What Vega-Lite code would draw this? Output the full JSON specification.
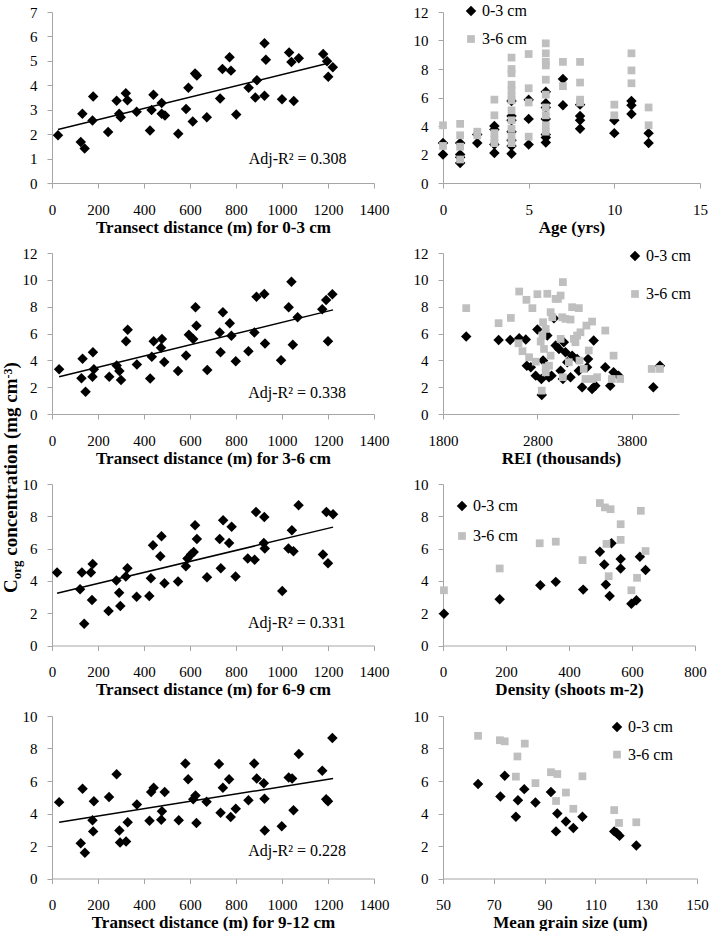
{
"$schema": "https://vega.github.io/schema/vega-lite/v6.json",
"padding": {"left": 1, "top": 3, "right": 0, "bottom": 0},
"bounds": "flush",
"align": "each",
"columns": 2,
"spacing": {"row": 70, "column": 69},
"resolve": {"scale": {"color": "independent", "shape": "independent", "size": "independent"}, "legend": {"color": "independent", "shape": "independent", "size": "independent"}},
"datasets": {
"ytitle": [
{"d": -152.2, "c": -13.34, "seg": "C"},
{"d": -152.2, "c": -13.34, "seg": "org"},
{"d": -152.2, "c": -13.34, "seg": "concentration (mg cm"},
{"d": -152.2, "c": -13.34, "seg": "-3"},
{"d": -152.2, "c": -13.34, "seg": ")"}
],
"p1": [
{"d":26,"c":1.95},{"d":125,"c":1.68},{"d":142,"c":1.41},{"d":132,"c":2.83},{"d":176,"c":2.56},{"d":179,"c":3.54},{"d":244,"c":2.09},{"d":281,"c":3.37},{"d":292,"c":2.83},{"d":299,"c":2.69},{"d":321,"c":3.67},{"d":328,"c":3.39},{"d":368,"c":2.92},{"d":426,"c":2.15},{"d":433,"c":2.99},{"d":441,"c":3.61},{"d":477,"c":3.27},{"d":477,"c":2.83},{"d":491,"c":2.76},{"d":549,"c":2.02},{"d":583,"c":3.03},{"d":593,"c":3.9},{"d":612,"c":2.52},{"d":622,"c":4.48},{"d":630,"c":4.4},{"d":673,"c":2.69},{"d":731,"c":3.46},{"d":741,"c":4.67},{"d":772,"c":5.15},{"d":778,"c":4.6},{"d":801,"c":2.8},{"d":855,"c":3.9},{"d":884,"c":3.5},{"d":891,"c":4.21},{"d":924,"c":3.57},{"d":924,"c":5.72},{"d":930,"c":5.05},{"d":1000,"c":3.43},{"d":1031,"c":5.34},{"d":1041,"c":4.95},{"d":1051,"c":3.36},{"d":1073,"c":5.11},{"d":1179,"c":5.28},{"d":1196,"c":4.98},{"d":1201,"c":4.35},{"d":1221,"c":4.74}
],
"l1": [{"d":26,"c":2.19},{"d":1196,"c":4.89}],
"r1": [{"d":1068,"c":0.97,"t":"Adj-R² = 0.308"}],
"p3": [
{"d":31,"c":3.33},{"d":128,"c":2.66},{"d":133,"c":4.11},{"d":146,"c":1.65},{"d":176,"c":2.78},{"d":178,"c":4.61},{"d":182,"c":3.33},{"d":249,"c":2.78},{"d":281,"c":3.62},{"d":293,"c":3.2},{"d":300,"c":2.54},{"d":329,"c":6.28},{"d":322,"c":5.42},{"d":369,"c":3.69},{"d":427,"c":2.64},{"d":434,"c":4.26},{"d":442,"c":5.42},{"d":478,"c":5.59},{"d":474,"c":4.93},{"d":488,"c":3.87},{"d":548,"c":3.2},{"d":583,"c":4.36},{"d":595,"c":5.91},{"d":614,"c":5.59},{"d":624,"c":7.96},{"d":628,"c":6.58},{"d":675,"c":3.28},{"d":729,"c":6.08},{"d":733,"c":4.61},{"d":743,"c":7.59},{"d":773,"c":6.77},{"d":780,"c":5.84},{"d":799,"c":3.94},{"d":854,"c":4.68},{"d":880,"c":6.08},{"d":889,"c":8.74},{"d":923,"c":8.94},{"d":926,"c":5.25},{"d":996,"c":4.01},{"d":1029,"c":7.96},{"d":1041,"c":9.85},{"d":1047,"c":5.17},{"d":1068,"c":7.22},{"d":1175,"c":7.81},{"d":1192,"c":8.5},{"d":1200,"c":5.42},{"d":1219,"c":8.92}
],
"l3": [{"d":31,"c":2.78},{"d":1222,"c":7.76}],
"r3": [{"d":1066,"c":1.53,"t":"Adj-R² = 0.338"}],
"p5": [
{"d":22,"c":4.52},{"d":122,"c":3.48},{"d":130,"c":4.52},{"d":140,"c":1.35},{"d":169,"c":4.52},{"d":177,"c":5.04},{"d":174,"c":2.81},{"d":246,"c":2.13},{"d":280,"c":4.02},{"d":292,"c":3.27},{"d":297,"c":2.44},{"d":321,"c":4.27},{"d":328,"c":4.79},{"d":368,"c":3.02},{"d":423,"c":3.06},{"d":430,"c":4.17},{"d":439,"c":6.21},{"d":471,"c":5.52},{"d":476,"c":6.77},{"d":489,"c":3.85},{"d":548,"c":3.96},{"d":582,"c":4.9},{"d":589,"c":5.38},{"d":604,"c":5.63},{"d":616,"c":5.79},{"d":622,"c":7.44},{"d":630,"c":6.6},{"d":674,"c":4.23},{"d":729,"c":6.6},{"d":734,"c":4.79},{"d":744,"c":7.75},{"d":770,"c":6.35},{"d":781,"c":7.35},{"d":798,"c":4.27},{"d":851,"c":5.38},{"d":881,"c":5.31},{"d":887,"c":8.27},{"d":923,"c":7.96},{"d":921,"c":6.35},{"d":925,"c":6.0},{"d":1001,"c":3.38},{"d":1028,"c":6.0},{"d":1043,"c":7.13},{"d":1050,"c":5.83},{"d":1072,"c":8.69},{"d":1178,"c":5.63},{"d":1193,"c":8.27},{"d":1200,"c":5.1},{"d":1222,"c":8.13}
],
"l5": [{"d":22,"c":3.23},{"d":1222,"c":7.33}],
"r5": [{"d":1065,"c":1.4,"t":"Adj-R² = 0.331"}],
"p7": [
{"d":31,"c":4.7},{"d":125,"c":2.17},{"d":133,"c":5.53},{"d":143,"c":1.59},{"d":176,"c":3.58},{"d":179,"c":2.9},{"d":182,"c":4.76},{"d":248,"c":5.01},{"d":281,"c":6.42},{"d":293,"c":2.96},{"d":296,"c":2.22},{"d":322,"c":2.28},{"d":329,"c":3.46},{"d":369,"c":4.55},{"d":424,"c":3.56},{"d":431,"c":5.32},{"d":442,"c":5.59},{"d":475,"c":3.62},{"d":478,"c":4.14},{"d":490,"c":5.32},{"d":551,"c":3.58},{"d":580,"c":7.08},{"d":592,"c":6.11},{"d":614,"c":4.87},{"d":624,"c":5.11},{"d":628,"c":3.42},{"d":672,"c":4.72},{"d":726,"c":7.04},{"d":733,"c":4.04},{"d":743,"c":5.59},{"d":770,"c":6.11},{"d":777,"c":3.79},{"d":799,"c":4.29},{"d":854,"c":4.82},{"d":879,"c":7.08},{"d":890,"c":6.15},{"d":921,"c":5.86},{"d":924,"c":4.91},{"d":925,"c":2.96},{"d":999,"c":3.21},{"d":1029,"c":6.21},{"d":1044,"c":6.15},{"d":1050,"c":4.2},{"d":1073,"c":7.66},{"d":1175,"c":6.63},{"d":1192,"c":4.87},{"d":1200,"c":4.76},{"d":1219,"c":8.65}
],
"l7": [{"d":31,"c":3.46},{"d":1222,"c":6.15}],
"r7": [{"d":1066,"c":1.72,"t":"Adj-R² = 0.228"}],
"age": [
{"a":0,"c":2.8,"s":"0-3 cm"},{"a":0,"c":2.0,"s":"0-3 cm"},{"a":1,"c":2.8,"s":"0-3 cm"},{"a":1,"c":2.0,"s":"0-3 cm"},{"a":1,"c":1.4,"s":"0-3 cm"},{"a":1,"c":1.8,"s":"0-3 cm"},{"a":2,"c":2.8,"s":"0-3 cm"},{"a":2,"c":3.4,"s":"0-3 cm"},{"a":3,"c":4.0,"s":"0-3 cm"},{"a":3,"c":3.75,"s":"0-3 cm"},{"a":3,"c":2.7,"s":"0-3 cm"},{"a":3,"c":2.1,"s":"0-3 cm"},{"a":4,"c":5.75,"s":"0-3 cm"},{"a":4,"c":4.7,"s":"0-3 cm"},{"a":4,"c":4.4,"s":"0-3 cm"},{"a":4,"c":3.6,"s":"0-3 cm"},{"a":4,"c":3.0,"s":"0-3 cm"},{"a":4,"c":2.6,"s":"0-3 cm"},{"a":4,"c":2.05,"s":"0-3 cm"},{"a":5,"c":5.85,"s":"0-3 cm"},{"a":5,"c":4.5,"s":"0-3 cm"},{"a":5,"c":2.7,"s":"0-3 cm"},{"a":6,"c":6.4,"s":"0-3 cm"},{"a":6,"c":5.6,"s":"0-3 cm"},{"a":6,"c":5.3,"s":"0-3 cm"},{"a":6,"c":4.5,"s":"0-3 cm"},{"a":6,"c":3.4,"s":"0-3 cm"},{"a":6,"c":3.2,"s":"0-3 cm"},{"a":6,"c":2.85,"s":"0-3 cm"},{"a":7,"c":7.3,"s":"0-3 cm"},{"a":7,"c":5.45,"s":"0-3 cm"},{"a":8,"c":5.5,"s":"0-3 cm"},{"a":8,"c":4.7,"s":"0-3 cm"},{"a":8,"c":4.4,"s":"0-3 cm"},{"a":8,"c":3.8,"s":"0-3 cm"},{"a":10,"c":4.4,"s":"0-3 cm"},{"a":10,"c":3.5,"s":"0-3 cm"},{"a":11,"c":5.75,"s":"0-3 cm"},{"a":11,"c":5.45,"s":"0-3 cm"},{"a":11,"c":4.85,"s":"0-3 cm"},{"a":12,"c":3.5,"s":"0-3 cm"},{"a":12,"c":2.8,"s":"0-3 cm"},
{"a":0,"c":4.05,"s":"3-6 cm"},{"a":0,"c":2.6,"s":"3-6 cm"},{"a":1,"c":4.15,"s":"3-6 cm"},{"a":1,"c":3.35,"s":"3-6 cm"},{"a":1,"c":2.55,"s":"3-6 cm"},{"a":1,"c":1.65,"s":"3-6 cm"},{"a":2,"c":3.6,"s":"3-6 cm"},{"a":2,"c":3.35,"s":"3-6 cm"},{"a":3,"c":5.85,"s":"3-6 cm"},{"a":3,"c":4.75,"s":"3-6 cm"},{"a":3,"c":3.5,"s":"3-6 cm"},{"a":3,"c":3.05,"s":"3-6 cm"},{"a":3,"c":2.8,"s":"3-6 cm"},{"a":4,"c":8.8,"s":"3-6 cm"},{"a":4,"c":8.0,"s":"3-6 cm"},{"a":4,"c":7.7,"s":"3-6 cm"},{"a":4,"c":6.9,"s":"3-6 cm"},{"a":4,"c":6.5,"s":"3-6 cm"},{"a":4,"c":6.1,"s":"3-6 cm"},{"a":4,"c":5.8,"s":"3-6 cm"},{"a":4,"c":5.1,"s":"3-6 cm"},{"a":4,"c":4.4,"s":"3-6 cm"},{"a":4,"c":3.8,"s":"3-6 cm"},{"a":4,"c":3.25,"s":"3-6 cm"},{"a":4,"c":2.8,"s":"3-6 cm"},{"a":5,"c":9.05,"s":"3-6 cm"},{"a":5,"c":6.65,"s":"3-6 cm"},{"a":5,"c":5.65,"s":"3-6 cm"},{"a":5,"c":3.25,"s":"3-6 cm"},{"a":6,"c":9.8,"s":"3-6 cm"},{"a":6,"c":9.1,"s":"3-6 cm"},{"a":6,"c":8.5,"s":"3-6 cm"},{"a":6,"c":8.25,"s":"3-6 cm"},{"a":6,"c":7.25,"s":"3-6 cm"},{"a":6,"c":6.2,"s":"3-6 cm"},{"a":6,"c":5.3,"s":"3-6 cm"},{"a":6,"c":4.75,"s":"3-6 cm"},{"a":6,"c":4.05,"s":"3-6 cm"},{"a":6,"c":3.6,"s":"3-6 cm"},{"a":7,"c":8.5,"s":"3-6 cm"},{"a":7,"c":6.8,"s":"3-6 cm"},{"a":8,"c":8.5,"s":"3-6 cm"},{"a":8,"c":7.05,"s":"3-6 cm"},{"a":8,"c":5.85,"s":"3-6 cm"},{"a":8,"c":5.65,"s":"3-6 cm"},{"a":10,"c":5.5,"s":"3-6 cm"},{"a":10,"c":4.75,"s":"3-6 cm"},{"a":11,"c":9.1,"s":"3-6 cm"},{"a":11,"c":7.9,"s":"3-6 cm"},{"a":11,"c":7.0,"s":"3-6 cm"},{"a":12,"c":5.3,"s":"3-6 cm"},{"a":12,"c":4.05,"s":"3-6 cm"}
],
"rei": [
{"r":2046,"c":5.77,"s":"0-3 cm"},{"r":2389,"c":5.52,"s":"0-3 cm"},{"r":2512,"c":5.52,"s":"0-3 cm"},{"r":2607,"c":5.65,"s":"0-3 cm"},{"r":2677,"c":5.55,"s":"0-3 cm"},{"r":2688,"c":3.6,"s":"0-3 cm"},{"r":2730,"c":3.48,"s":"0-3 cm"},{"r":2782,"c":2.86,"s":"0-3 cm"},{"r":2800,"c":6.29,"s":"0-3 cm"},{"r":2842,"c":2.61,"s":"0-3 cm"},{"r":2846,"c":1.42,"s":"0-3 cm"},{"r":2860,"c":3.98,"s":"0-3 cm"},{"r":2905,"c":5.85,"s":"0-3 cm"},{"r":2923,"c":2.74,"s":"0-3 cm"},{"r":2950,"c":2.86,"s":"0-3 cm"},{"r":2975,"c":7.14,"s":"0-3 cm"},{"r":2993,"c":5.1,"s":"0-3 cm"},{"r":3028,"c":4.85,"s":"0-3 cm"},{"r":3046,"c":3.23,"s":"0-3 cm"},{"r":3070,"c":2.61,"s":"0-3 cm"},{"r":3080,"c":5.35,"s":"0-3 cm"},{"r":3098,"c":4.6,"s":"0-3 cm"},{"r":3116,"c":3.86,"s":"0-3 cm"},{"r":3151,"c":2.74,"s":"0-3 cm"},{"r":3168,"c":4.35,"s":"0-3 cm"},{"r":3221,"c":4.1,"s":"0-3 cm"},{"r":3239,"c":3.23,"s":"0-3 cm"},{"r":3274,"c":1.99,"s":"0-3 cm"},{"r":3326,"c":3.48,"s":"0-3 cm"},{"r":3337,"c":4.1,"s":"0-3 cm"},{"r":3379,"c":1.87,"s":"0-3 cm"},{"r":3396,"c":5.47,"s":"0-3 cm"},{"r":3414,"c":2.11,"s":"0-3 cm"},{"r":3519,"c":3.48,"s":"0-3 cm"},{"r":3572,"c":2.11,"s":"0-3 cm"},{"r":3607,"c":3.11,"s":"0-3 cm"},{"r":3660,"c":2.86,"s":"0-3 cm"},{"r":4028,"c":1.99,"s":"0-3 cm"},{"r":4098,"c":3.6,"s":"0-3 cm"},
{"r":2046,"c":7.89,"s":"3-6 cm"},{"r":2389,"c":6.77,"s":"3-6 cm"},{"r":2519,"c":7.16,"s":"3-6 cm"},{"r":2607,"c":9.13,"s":"3-6 cm"},{"r":2684,"c":8.51,"s":"3-6 cm"},{"r":2747,"c":7.89,"s":"3-6 cm"},{"r":2800,"c":8.93,"s":"3-6 cm"},{"r":2600,"c":5.27,"s":"3-6 cm"},{"r":2642,"c":4.68,"s":"3-6 cm"},{"r":2712,"c":4.23,"s":"3-6 cm"},{"r":2782,"c":3.9,"s":"3-6 cm"},{"r":2835,"c":5.4,"s":"3-6 cm"},{"r":2853,"c":5.85,"s":"3-6 cm"},{"r":2860,"c":6.84,"s":"3-6 cm"},{"r":2888,"c":6.34,"s":"3-6 cm"},{"r":2905,"c":8.96,"s":"3-6 cm"},{"r":2940,"c":7.59,"s":"3-6 cm"},{"r":2958,"c":7.21,"s":"3-6 cm"},{"r":2870,"c":4.85,"s":"3-6 cm"},{"r":2888,"c":3.48,"s":"3-6 cm"},{"r":2888,"c":3.11,"s":"3-6 cm"},{"r":2846,"c":1.74,"s":"3-6 cm"},{"r":2923,"c":3.6,"s":"3-6 cm"},{"r":2940,"c":4.35,"s":"3-6 cm"},{"r":2993,"c":8.58,"s":"3-6 cm"},{"r":3018,"c":8.58,"s":"3-6 cm"},{"r":3046,"c":8.83,"s":"3-6 cm"},{"r":3070,"c":9.83,"s":"3-6 cm"},{"r":3063,"c":7.21,"s":"3-6 cm"},{"r":3046,"c":5.6,"s":"3-6 cm"},{"r":3070,"c":2.74,"s":"3-6 cm"},{"r":3098,"c":7.09,"s":"3-6 cm"},{"r":3133,"c":3.86,"s":"3-6 cm"},{"r":3151,"c":7.04,"s":"3-6 cm"},{"r":3168,"c":7.96,"s":"3-6 cm"},{"r":3186,"c":5.6,"s":"3-6 cm"},{"r":3203,"c":5.35,"s":"3-6 cm"},{"r":3221,"c":5.85,"s":"3-6 cm"},{"r":3239,"c":7.89,"s":"3-6 cm"},{"r":3246,"c":3.98,"s":"3-6 cm"},{"r":3256,"c":6.09,"s":"3-6 cm"},{"r":3291,"c":3.36,"s":"3-6 cm"},{"r":3309,"c":2.61,"s":"3-6 cm"},{"r":3319,"c":6.59,"s":"3-6 cm"},{"r":3344,"c":4.73,"s":"3-6 cm"},{"r":3379,"c":6.89,"s":"3-6 cm"},{"r":3432,"c":2.74,"s":"3-6 cm"},{"r":3379,"c":2.61,"s":"3-6 cm"},{"r":3519,"c":6.22,"s":"3-6 cm"},{"r":3607,"c":4.35,"s":"3-6 cm"},{"r":3589,"c":2.61,"s":"3-6 cm"},{"r":3677,"c":2.61,"s":"3-6 cm"},{"r":4011,"c":3.36,"s":"3-6 cm"},{"r":4098,"c":3.36,"s":"3-6 cm"}
],
"dens": [
{"n":3,"c":1.97,"s":"0-3 cm"},{"n":180,"c":2.86,"s":"0-3 cm"},{"n":309,"c":3.73,"s":"0-3 cm"},{"n":358,"c":3.94,"s":"0-3 cm"},{"n":445,"c":3.46,"s":"0-3 cm"},{"n":498,"c":5.81,"s":"0-3 cm"},{"n":512,"c":5.02,"s":"0-3 cm"},{"n":517,"c":3.78,"s":"0-3 cm"},{"n":529,"c":3.07,"s":"0-3 cm"},{"n":535,"c":6.33,"s":"0-3 cm"},{"n":564,"c":5.35,"s":"0-3 cm"},{"n":564,"c":4.77,"s":"0-3 cm"},{"n":598,"c":2.59,"s":"0-3 cm"},{"n":614,"c":2.8,"s":"0-3 cm"},{"n":625,"c":5.5,"s":"0-3 cm"},{"n":643,"c":4.67,"s":"0-3 cm"},
{"n":3,"c":3.42,"s":"3-6 cm"},{"n":180,"c":4.77,"s":"3-6 cm"},{"n":307,"c":6.33,"s":"3-6 cm"},{"n":358,"c":6.43,"s":"3-6 cm"},{"n":443,"c":5.29,"s":"3-6 cm"},{"n":498,"c":8.82,"s":"3-6 cm"},{"n":514,"c":8.55,"s":"3-6 cm"},{"n":532,"c":8.44,"s":"3-6 cm"},{"n":519,"c":6.29,"s":"3-6 cm"},{"n":564,"c":7.51,"s":"3-6 cm"},{"n":564,"c":6.54,"s":"3-6 cm"},{"n":526,"c":4.29,"s":"3-6 cm"},{"n":598,"c":3.42,"s":"3-6 cm"},{"n":616,"c":4.19,"s":"3-6 cm"},{"n":628,"c":8.34,"s":"3-6 cm"},{"n":643,"c":5.85,"s":"3-6 cm"}
],
"grain": [
{"g":63.8,"c":5.81,"s":"0-3 cm"},{"g":72.6,"c":5.04,"s":"0-3 cm"},{"g":74.3,"c":6.33,"s":"0-3 cm"},{"g":78.7,"c":3.8,"s":"0-3 cm"},{"g":79.5,"c":4.81,"s":"0-3 cm"},{"g":82.0,"c":5.5,"s":"0-3 cm"},{"g":86.4,"c":4.67,"s":"0-3 cm"},{"g":92.5,"c":5.33,"s":"0-3 cm"},{"g":94.5,"c":2.9,"s":"0-3 cm"},{"g":95.0,"c":4.0,"s":"0-3 cm"},{"g":98.4,"c":3.51,"s":"0-3 cm"},{"g":101.3,"c":3.11,"s":"0-3 cm"},{"g":104.9,"c":3.8,"s":"0-3 cm"},{"g":117.4,"c":2.9,"s":"0-3 cm"},{"g":118.4,"c":2.8,"s":"0-3 cm"},{"g":119.5,"c":2.63,"s":"0-3 cm"},{"g":126.1,"c":2.03,"s":"0-3 cm"},
{"g":63.8,"c":8.78,"s":"3-6 cm"},{"g":72.4,"c":8.51,"s":"3-6 cm"},{"g":74.3,"c":8.44,"s":"3-6 cm"},{"g":78.7,"c":6.27,"s":"3-6 cm"},{"g":79.3,"c":7.51,"s":"3-6 cm"},{"g":82.2,"c":8.3,"s":"3-6 cm"},{"g":86.4,"c":5.87,"s":"3-6 cm"},{"g":92.5,"c":6.54,"s":"3-6 cm"},{"g":94.5,"c":4.77,"s":"3-6 cm"},{"g":95.0,"c":6.43,"s":"3-6 cm"},{"g":98.4,"c":5.29,"s":"3-6 cm"},{"g":101.3,"c":4.29,"s":"3-6 cm"},{"g":104.9,"c":6.29,"s":"3-6 cm"},{"g":117.4,"c":4.21,"s":"3-6 cm"},{"g":119.3,"c":3.42,"s":"3-6 cm"},{"g":126.1,"c":3.46,"s":"3-6 cm"}
]
},
"concat": [
{
"width": 322, "height": 171,
"encoding": {
"x": {"field": "d", "type": "quantitative", "scale": {"domain": [0, 1400], "nice": false}, "axis": {"values": [0, 200, 400, 600, 800, 1000, 1200, 1400], "format": "d", "title": "Transect distance (m) for 0-3 cm"}},
"y": {"field": "c", "type": "quantitative", "scale": {"domain": [0, 7], "nice": false}, "axis": {"values": [0, 1, 2, 3, 4, 5, 6, 7], "title": null}}
},
"layer": [
{"data": {"name": "p1"}, "mark": {"type": "point", "shape": "diamond", "filled": true, "color": "black", "opacity": 1, "size": 110}},
{"data": {"name": "l1"}, "mark": {"type": "line", "color": "black", "strokeWidth": 1.5}},
{"data": {"name": "r1"}, "mark": {"type": "text", "font": "Liberation Serif", "fontSize": 16, "color": "black", "align": "center", "baseline": "middle"}, "encoding": {"text": {"field": "t"}}}
]
},
{
"width": 257, "height": 171,
"data": {"name": "age"},
"mark": {"type": "point", "filled": true, "opacity": 1},
"encoding": {
"x": {"field": "a", "type": "quantitative", "scale": {"domain": [0, 15], "nice": false}, "axis": {"values": [0, 5, 10, 15], "title": "Age (yrs)"}},
"y": {"field": "c", "type": "quantitative", "scale": {"domain": [0, 12], "nice": false}, "axis": {"values": [0, 2, 4, 6, 8, 10, 12], "title": null}},
"color": {"field": "s", "type": "nominal", "title": null, "scale": {"domain": ["0-3 cm", "3-6 cm"], "range": ["#000000", "#bfbfbf"]}, "legend": {"orient": "none", "legendX": 20, "legendY": -9, "rowPadding": 12}},
"shape": {"field": "s", "type": "nominal", "title": null, "scale": {"domain": ["0-3 cm", "3-6 cm"], "range": ["diamond", "square"]}},
"size": {"field": "s", "type": "nominal", "title": null, "scale": {"domain": ["0-3 cm", "3-6 cm"], "range": [110, 60]}}
}
},
{
"width": 322, "height": 161,
"encoding": {
"x": {"field": "d", "type": "quantitative", "scale": {"domain": [0, 1400], "nice": false}, "axis": {"values": [0, 200, 400, 600, 800, 1000, 1200, 1400], "format": "d", "title": "Transect distance (m) for 3-6 cm"}},
"y": {"field": "c", "type": "quantitative", "scale": {"domain": [0, 12], "nice": false}, "axis": {"values": [0, 2, 4, 6, 8, 10, 12], "title": null}}
},
"layer": [
{"data": {"name": "p3"}, "mark": {"type": "point", "shape": "diamond", "filled": true, "color": "black", "opacity": 1, "size": 110}},
{"data": {"name": "l3"}, "mark": {"type": "line", "color": "black", "strokeWidth": 1.5}},
{"data": {"name": "r3"}, "mark": {"type": "text", "font": "Liberation Serif", "fontSize": 16, "color": "black", "align": "center", "baseline": "middle"}, "encoding": {"text": {"field": "t"}}},
{"data": {"name": "ytitle"}, "encoding": {"text": {"field": "seg"}},
 "layer": [
 {"transform": [{"filter": "datum.seg === 'C'"}], "mark": {"type": "text", "angle": 270, "align": "left", "baseline": "alphabetic", "font": "Liberation Serif", "fontWeight": "bold", "fontSize": 19, "color": "black", "dx": 0}},
 {"transform": [{"filter": "datum.seg === 'org'"}], "mark": {"type": "text", "angle": 270, "align": "left", "baseline": "alphabetic", "font": "Liberation Serif", "fontWeight": "bold", "fontSize": 13, "color": "black", "dx": 13.7, "dy": 4}},
 {"transform": [{"filter": "datum.seg === 'concentration (mg cm'"}], "mark": {"type": "text", "angle": 270, "align": "left", "baseline": "alphabetic", "font": "Liberation Serif", "fontWeight": "bold", "fontSize": 19, "color": "black", "dx": 37.3}},
 {"transform": [{"filter": "datum.seg === '-3'"}], "mark": {"type": "text", "angle": 270, "align": "left", "baseline": "alphabetic", "font": "Liberation Serif", "fontWeight": "bold", "fontSize": 12, "color": "black", "dx": 214.6, "dy": -5}},
 {"transform": [{"filter": "datum.seg === ')'"}], "mark": {"type": "text", "angle": 270, "align": "left", "baseline": "alphabetic", "font": "Liberation Serif", "fontWeight": "bold", "fontSize": 19, "color": "black", "dx": 224.6}}
 ]
}
]
},
{
"width": 236, "height": 161,
"data": {"name": "rei"},
"mark": {"type": "point", "filled": true, "opacity": 1},
"encoding": {
"x": {"field": "r", "type": "quantitative", "scale": {"domain": [1800, 4300], "nice": false, "zero": false}, "axis": {"values": [1800, 2800, 3800], "format": "d", "title": "REI (thousands)"}},
"y": {"field": "c", "type": "quantitative", "scale": {"domain": [0, 12], "nice": false}, "axis": {"values": [0, 2, 4, 6, 8, 10, 12], "title": null}},
"color": {"field": "s", "type": "nominal", "title": null, "scale": {"domain": ["0-3 cm", "3-6 cm"], "range": ["#000000", "#bfbfbf"]}, "legend": {"orient": "none", "legendX": 184, "legendY": -5, "rowPadding": 22}},
"shape": {"field": "s", "type": "nominal", "title": null, "scale": {"domain": ["0-3 cm", "3-6 cm"], "range": ["diamond", "square"]}},
"size": {"field": "s", "type": "nominal", "title": null, "scale": {"domain": ["0-3 cm", "3-6 cm"], "range": [110, 60]}}
}
},
{
"width": 322, "height": 161.5,
"encoding": {
"x": {"field": "d", "type": "quantitative", "scale": {"domain": [0, 1400], "nice": false}, "axis": {"values": [0, 200, 400, 600, 800, 1000, 1200, 1400], "format": "d", "title": "Transect distance (m) for 6-9 cm"}},
"y": {"field": "c", "type": "quantitative", "scale": {"domain": [0, 10], "nice": false}, "axis": {"values": [0, 2, 4, 6, 8, 10], "title": null}}
},
"layer": [
{"data": {"name": "p5"}, "mark": {"type": "point", "shape": "diamond", "filled": true, "color": "black", "opacity": 1, "size": 110}},
{"data": {"name": "l5"}, "mark": {"type": "line", "color": "black", "strokeWidth": 1.5}},
{"data": {"name": "r5"}, "mark": {"type": "text", "font": "Liberation Serif", "fontSize": 16, "color": "black", "align": "center", "baseline": "middle"}, "encoding": {"text": {"field": "t"}}}
]
},
{
"width": 252, "height": 161.5,
"data": {"name": "dens"},
"mark": {"type": "point", "filled": true, "opacity": 1},
"encoding": {
"x": {"field": "n", "type": "quantitative", "scale": {"domain": [0, 800], "nice": false}, "axis": {"values": [0, 200, 400, 600, 800], "title": "Density (shoots m-2)"}},
"y": {"field": "c", "type": "quantitative", "scale": {"domain": [0, 10], "nice": false}, "axis": {"values": [0, 2, 4, 6, 8, 10], "title": null}},
"color": {"field": "s", "type": "nominal", "title": null, "scale": {"domain": ["0-3 cm", "3-6 cm"], "range": ["#000000", "#bfbfbf"]}, "legend": {"orient": "none", "legendX": 11, "legendY": 14, "rowPadding": 14}},
"shape": {"field": "s", "type": "nominal", "title": null, "scale": {"domain": ["0-3 cm", "3-6 cm"], "range": ["diamond", "square"]}},
"size": {"field": "s", "type": "nominal", "title": null, "scale": {"domain": ["0-3 cm", "3-6 cm"], "range": [110, 60]}}
}
},
{
"width": 322, "height": 162.5,
"encoding": {
"x": {"field": "d", "type": "quantitative", "scale": {"domain": [0, 1400], "nice": false}, "axis": {"values": [0, 200, 400, 600, 800, 1000, 1200, 1400], "format": "d", "title": "Transect distance (m) for 9-12 cm"}},
"y": {"field": "c", "type": "quantitative", "scale": {"domain": [0, 10], "nice": false}, "axis": {"values": [0, 2, 4, 6, 8, 10], "title": null}}
},
"layer": [
{"data": {"name": "p7"}, "mark": {"type": "point", "shape": "diamond", "filled": true, "color": "black", "opacity": 1, "size": 110}},
{"data": {"name": "l7"}, "mark": {"type": "line", "color": "black", "strokeWidth": 1.5}},
{"data": {"name": "r7"}, "mark": {"type": "text", "font": "Liberation Serif", "fontSize": 16, "color": "black", "align": "center", "baseline": "middle"}, "encoding": {"text": {"field": "t"}}}
]
},
{
"width": 254, "height": 162.5,
"data": {"name": "grain"},
"mark": {"type": "point", "filled": true, "opacity": 1},
"encoding": {
"x": {"field": "g", "type": "quantitative", "scale": {"domain": [50, 150], "nice": false, "zero": false}, "axis": {"values": [50, 70, 90, 110, 130, 150], "title": "Mean grain size (um)"}},
"y": {"field": "c", "type": "quantitative", "scale": {"domain": [0, 10], "nice": false}, "axis": {"values": [0, 2, 4, 6, 8, 10], "title": null}},
"color": {"field": "s", "type": "nominal", "title": null, "scale": {"domain": ["0-3 cm", "3-6 cm"], "range": ["#000000", "#bfbfbf"]}, "legend": {"orient": "none", "legendX": 166, "legendY": 3, "rowPadding": 11.6}},
"shape": {"field": "s", "type": "nominal", "title": null, "scale": {"domain": ["0-3 cm", "3-6 cm"], "range": ["diamond", "square"]}},
"size": {"field": "s", "type": "nominal", "title": null, "scale": {"domain": ["0-3 cm", "3-6 cm"], "range": [110, 60]}}
}
}
],
"config": {
"view": {"stroke": null},
"font": "Liberation Serif",
"axis": {"grid": false, "domainColor": "#a6a6a6", "domainWidth": 1, "tickColor": "#a6a6a6", "tickWidth": 1, "tickSize": 5, "labelFont": "Liberation Serif", "labelFontSize": 15, "labelColor": "#000000", "labelOverlap": false, "labelFlush": false, "titleFont": "Liberation Serif", "titleFontSize": 17, "titleFontWeight": "bold", "titleColor": "#000000"},
"axisX": {"labelPadding": 14, "titlePadding": 2, "labelAngle": 0},
"axisY": {"labelPadding": 10},
"legend": {"labelFont": "Liberation Serif", "labelFontSize": 16, "labelColor": "#000000", "padding": 0, "labelOffset": 3, "symbolStrokeWidth": 0, "symbolOpacity": 1}
}
}
